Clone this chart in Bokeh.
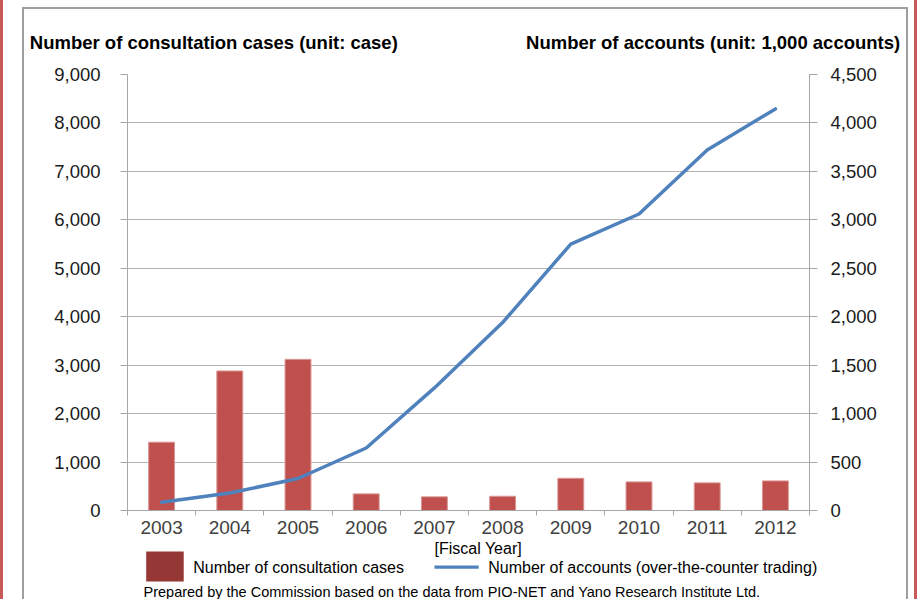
from bokeh.plotting import figure
from bokeh.models import (Range1d, LinearAxis, FixedTicker, NumeralTickFormatter,
                          Label, ColumnDataSource)
from bokeh.embed import file_html
from bokeh.resources import INLINE

# ---- data ----
years = ["2003", "2004", "2005", "2006", "2007", "2008", "2009", "2010", "2011", "2012"]
consultation_cases = [1410, 2880, 3120, 343, 282, 294, 665, 590, 570, 611]
accounts_thousands = [85, 180, 330, 645, 1265, 1940, 2750, 3060, 3720, 4145]
left_ticks = [0, 1000, 2000, 3000, 4000, 5000, 6000, 7000, 8000, 9000]
right_ticks = [0, 500, 1000, 1500, 2000, 2500, 3000, 3500, 4000, 4500]

FONT = "Liberation Sans"
W, H = 917, 599
FL, FR, FT, FB = 127, 809, 74, 510  # frame edges in canvas px

n = len(years)
xpos = [i + 0.5 for i in range(n)]
src = ColumnDataSource(dict(x=xpos, cases=consultation_cases, acc=accounts_thousands))

p = figure(width=W, height=H, output_backend="svg", toolbar_location=None,
           x_range=Range1d(0, n), y_range=Range1d(left_ticks[0], left_ticks[-1]),
           min_border_left=FL, min_border_right=W - FR, min_border_top=FT,
           min_border_bottom=H - FB)
p.extra_y_ranges = {"acc": Range1d(right_ticks[0], right_ticks[-1])}
p.outline_line_color = None
p.background_fill_color = "white"
p.border_fill_color = None
# page decoration: red side rules and grey box frame of the original document
RED, GREY = "#C8595A", "#9E9E9E"
p.styles = {"background": (
    f"linear-gradient({RED},{RED}) 0px 0px / 3px 100% no-repeat, "
    f"linear-gradient({GREY},{GREY}) 22px 7px / 2px 100% no-repeat, "
    f"linear-gradient({GREY},{GREY}) 22px 7px / 886px 2px no-repeat, "
    f"linear-gradient({GREY},{GREY}) 906px 7px / 2px 100% no-repeat, "
    f"linear-gradient({RED},{RED}) 914px 0px / 3px 100% no-repeat, #FFFFFF")}

AX = "#A6A6A6"

# x axis
xa = p.xaxis[0]
xa.ticker = FixedTicker(ticks=xpos, minor_ticks=list(range(n + 1)))
xa.major_label_overrides = {x: y for x, y in zip(xpos, years)}
xa.major_tick_out = 0
xa.major_tick_in = 0
xa.minor_tick_out = 5
xa.minor_tick_in = 0
xa.minor_tick_line_color = AX
xa.axis_line_color = AX
xa.major_label_standoff = 5
xa.major_label_text_font = FONT
xa.major_label_text_font_size = "19px"
xa.major_label_text_color = "#404040"

# left axis
ya = p.yaxis[0]
ya.ticker = FixedTicker(ticks=left_ticks)
ya.formatter = NumeralTickFormatter(format="0,0")
ya.major_tick_out = 7
ya.major_tick_in = 0
ya.minor_tick_line_color = None
ya.major_tick_line_color = AX
ya.axis_line_color = AX
ya.major_label_standoff = 20
ya.major_label_text_font = FONT
ya.major_label_text_font_size = "18.5px"
ya.major_label_text_color = "#1a1a1a"

# right axis
ra = LinearAxis(y_range_name="acc", ticker=FixedTicker(ticks=right_ticks),
                formatter=NumeralTickFormatter(format="0,0"))
ra.major_tick_out = 8
ra.major_tick_in = 0
ra.minor_tick_line_color = None
ra.major_tick_line_color = AX
ra.axis_line_color = AX
ra.major_label_standoff = 13
ra.major_label_text_font = FONT
ra.major_label_text_font_size = "18.5px"
ra.major_label_text_color = "#1a1a1a"
p.add_layout(ra, "right")

p.xgrid.grid_line_color = None
p.ygrid.ticker = FixedTicker(ticks=left_ticks)
p.ygrid.grid_line_color = "#B3B3B3"
p.ygrid.grid_line_width = 1

# bars and line
p.vbar(x="x", top="cases", width=0.38, source=src, fill_color="#C0504D",
       line_color="#D99694", line_width=1)
p.line(x="x", y="acc", source=src, y_range_name="acc", line_color="#4F81BD",
       line_width=3.5, line_join="round", line_cap="round")


def lab(text, cx, cy, size, side, align="left", baseline="middle", bold=False,
        color="black", bg=None):
    p.add_layout(Label(x=cx, y=cy, x_units="canvas", y_units="canvas", text=text,
                       text_font=FONT, text_font_size=size, text_align=align,
                       text_baseline=baseline, text_color=color,
                       background_fill_color=bg,
                       text_font_style="bold" if bold else "normal"), side)


NB = "\u00a0"
# top texts
lab("Number of consultation cases (unit: case)", 29.3, 41.7, "18.5px", "above",
    baseline="alphabetic", bold=True)
lab("Number of accounts (unit: 1,000 accounts)", 899.7, 41.7, "18.5px", "above",
    align="right", baseline="alphabetic", bold=True)
lab("[Fiscal Year]", 434, 548, "16px", "above")
# legend swatches
lab(NB * 5, 145.7, 551, "27px", "left", baseline="top", bg="#953735")
lab(NB * 53, 434, 565, "3px", "above", baseline="top", bg="#4F81BD")
# legend texts and footer
lab("Number of consultation cases", 192.7, 566.7, "16px", "below")
lab("Number of accounts (over-the-counter trading)", 487.7, 566.7, "16px", "below")
lab("Prepared by the Commission based on the data from PIO-NET and Yano Research Institute Ltd.",
    143, 591.7, "14.5px", "below")

open("out.html", "w").write(file_html(p, INLINE))
